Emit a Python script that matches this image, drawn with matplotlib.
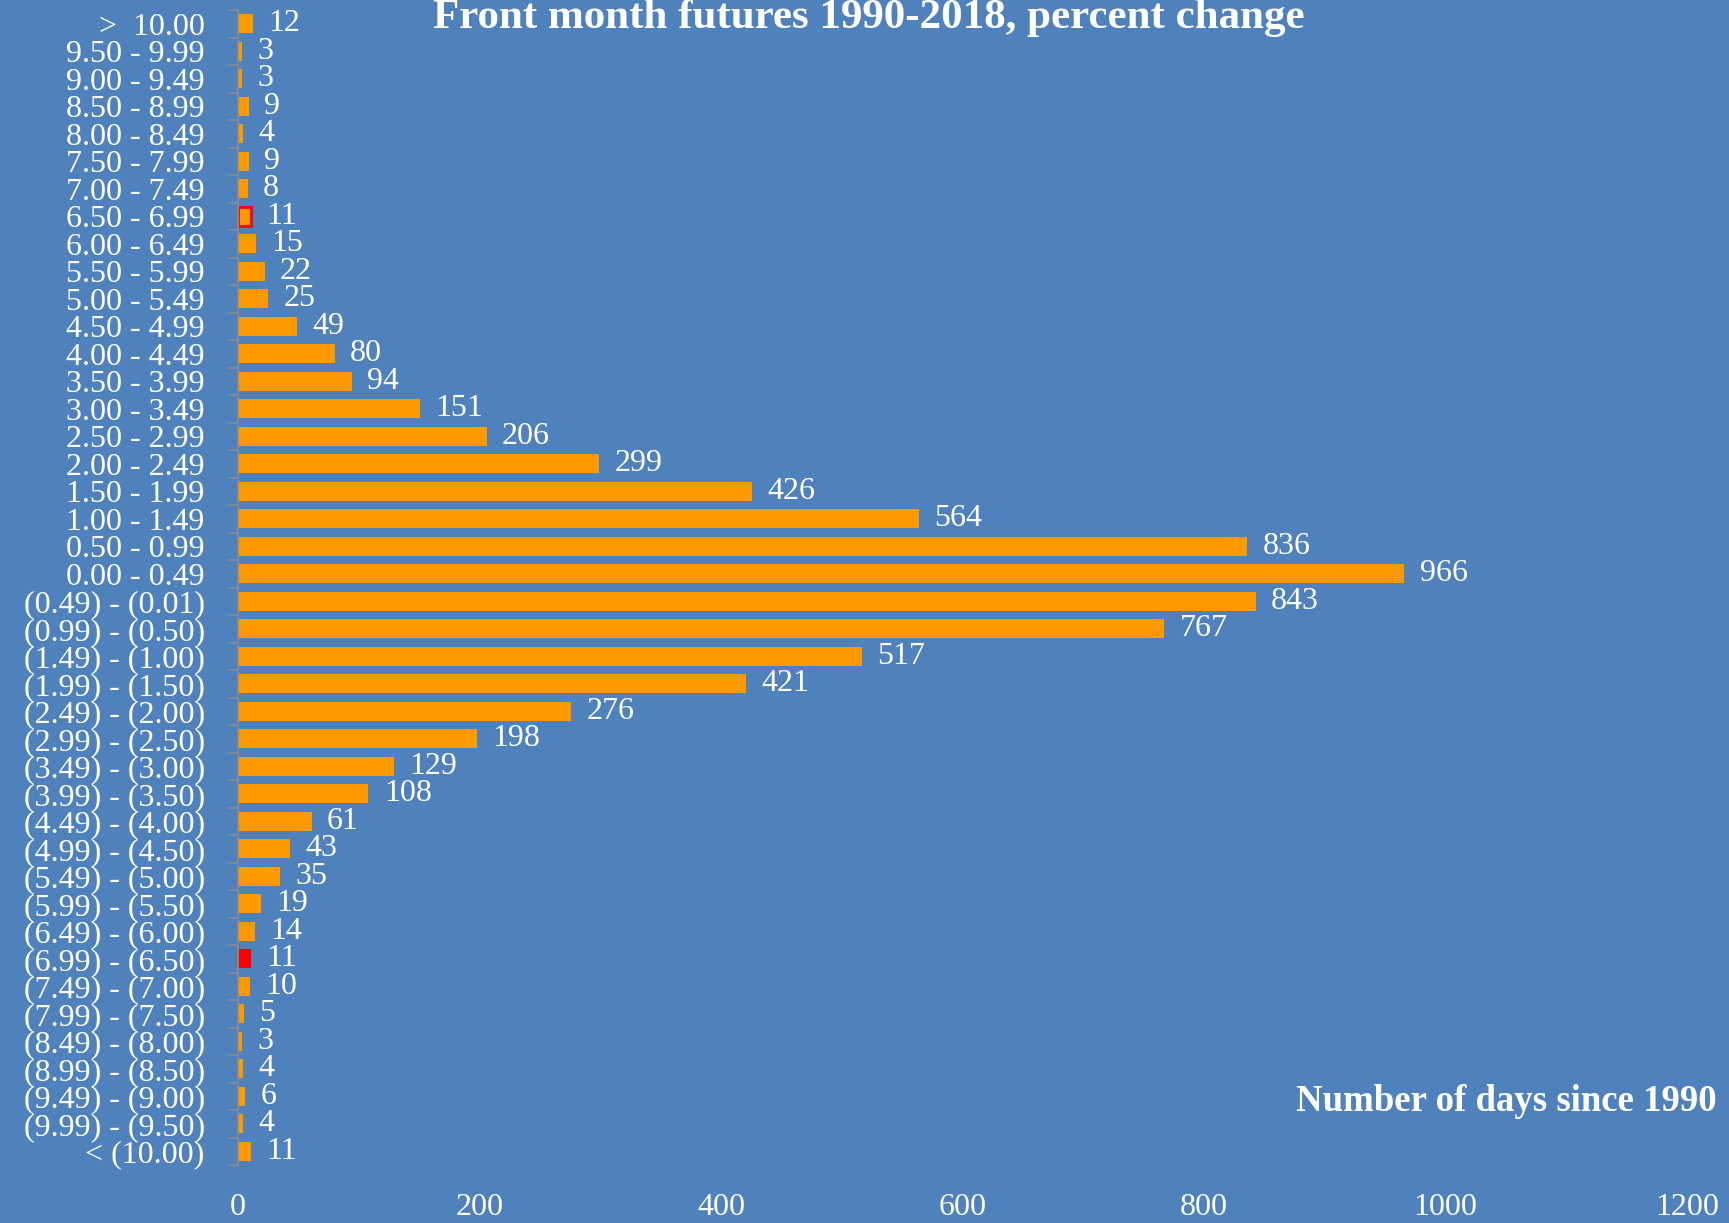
import matplotlib
matplotlib.use("Agg")
import matplotlib.pyplot as plt
import numpy as np

# categories, top to bottom
labels = [">  10.00", "9.50 - 9.99", "9.00 - 9.49", "8.50 - 8.99", "8.00 - 8.49",
          "7.50 - 7.99", "7.00 - 7.49", "6.50 - 6.99", "6.00 - 6.49", "5.50 - 5.99",
          "5.00 - 5.49", "4.50 - 4.99", "4.00 - 4.49", "3.50 - 3.99", "3.00 - 3.49",
          "2.50 - 2.99", "2.00 - 2.49", "1.50 - 1.99", "1.00 - 1.49", "0.50 - 0.99",
          "0.00 - 0.49", "(0.49) - (0.01)", "(0.99) - (0.50)", "(1.49) - (1.00)",
          "(1.99) - (1.50)", "(2.49) - (2.00)", "(2.99) - (2.50)", "(3.49) - (3.00)",
          "(3.99) - (3.50)", "(4.49) - (4.00)", "(4.99) - (4.50)", "(5.49) - (5.00)",
          "(5.99) - (5.50)", "(6.49) - (6.00)", "(6.99) - (6.50)", "(7.49) - (7.00)",
          "(7.99) - (7.50)", "(8.49) - (8.00)", "(8.99) - (8.50)", "(9.49) - (9.00)",
          "(9.99) - (9.50)", "< (10.00)"]
days = [12, 3, 3, 9, 4, 9, 8, 11, 15, 22, 25, 49, 80, 94, 151, 206, 299, 426, 564, 836,
        966, 843, 767, 517, 421, 276, 198, 129, 108, 61, 43, 35, 19, 14, 11, 10, 5, 3, 4,
        6, 4, 11]
# highlighted categories
edge_red = "6.50 - 6.99"
fill_red = "(6.99) - (6.50)"

bg = "#4f81bd"
orange = "#ff9900"

plt.rcParams['font.family'] = ['Liberation Serif', 'DejaVu Serif']

fig = plt.figure(figsize=(17.29, 12.23), dpi=100, facecolor=bg)
ax = fig.add_axes([0.1377, 0.0474, 0.9757 - 0.1377, 0.9918 - 0.0474])
ax.set_facecolor(bg)

y = np.arange(len(labels))
colors = [("#ff0000" if l == fill_red else orange) for l in labels]
edges = [("#ff0000" if l in (edge_red, fill_red) else orange) for l in labels]
lws = [(2.0 if l == edge_red else 0) for l in labels]
bars = ax.barh(y, days, height=0.68, color=colors, edgecolor=edges, linewidth=lws)

for b, v in zip(bars, days):
    ax.annotate(str(v), (b.get_width(), b.get_y() + b.get_height() / 2),
                xytext=(11, 0), textcoords="offset points", ha="left", va="center",
                color="white", fontsize=23)

ax.set_ylim(len(labels) - 0.5, -0.5)
ax.set_xlim(0, 1200)
ax.set_yticks(y)
ax.set_yticklabels(labels)
ax.set_yticks(np.arange(len(labels) + 1) - 0.5, minor=True)
ax.tick_params(axis="y", which="major", length=0, pad=24, labelsize=23, labelcolor="white")
ax.tick_params(axis="y", which="minor", length=7, width=1.2, color="#8c8c8c")
ax.set_xticks(np.arange(0, 1201, 200))
ax.tick_params(axis="x", length=0, pad=20, labelsize=23, labelcolor="white")

for s in ["top", "right", "bottom"]:
    ax.spines[s].set_visible(False)
ax.spines["left"].set_color("#8c8c8c")
ax.spines["left"].set_linewidth(1.2)

fig.text(0.5025, 0.977, "Front month futures 1990-2018, percent change", ha="center",
         va="baseline", color="white", fontsize=31, fontweight="bold")
fig.text(0.993, 0.099, "Number of days since 1990", ha="right",
         va="center", color="white", fontsize=26.5, fontweight="bold")

fig.savefig("out.png", dpi=100, facecolor=bg)
